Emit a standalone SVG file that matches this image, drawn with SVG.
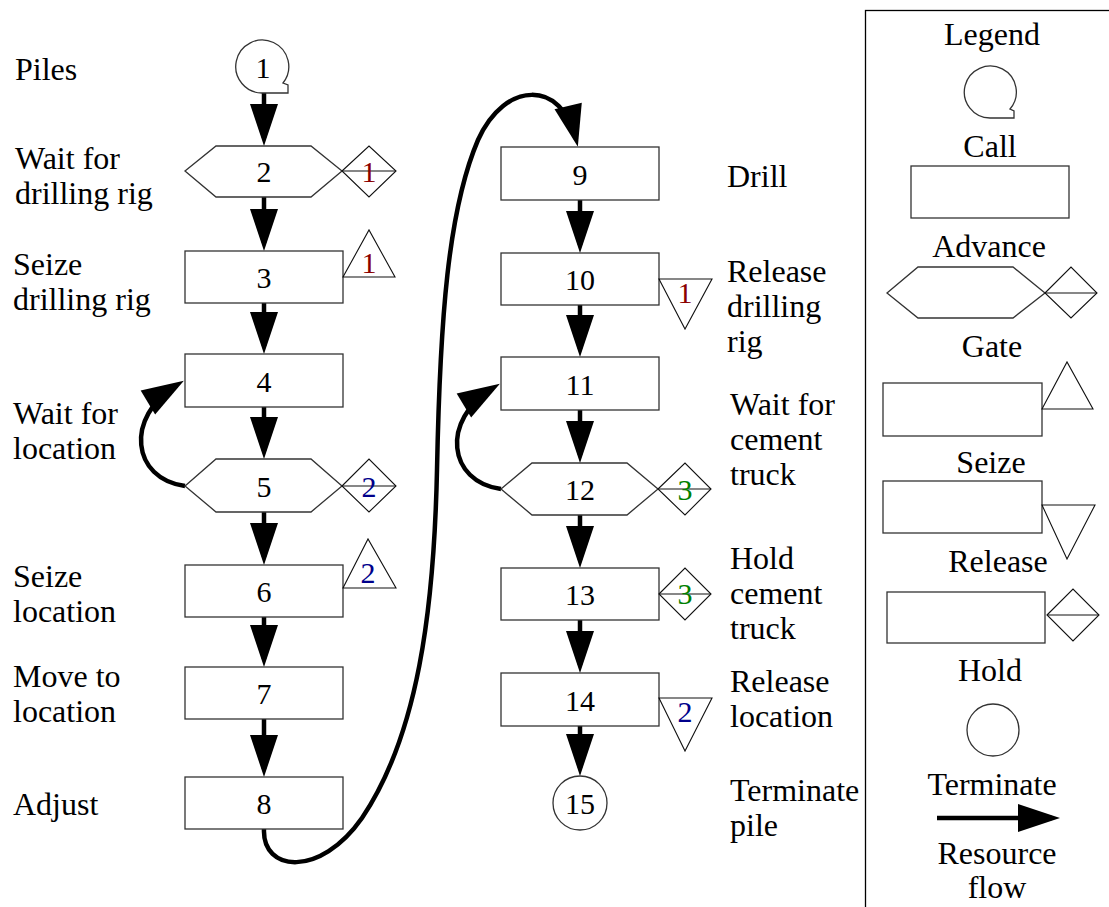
<svg xmlns="http://www.w3.org/2000/svg" width="1109" height="907" viewBox="0 0 1109 907">
  <style>
    .shape { fill: #fff; stroke: #333; stroke-width: 1.3; }
    .res { fill: none; stroke: #111; stroke-width: 1.1; }
    .num { font-family: "Liberation Serif", "Times New Roman", serif; font-size: 30px; fill: #000; text-anchor: middle; }
    .lbl { font-family: "Liberation Serif", "Times New Roman", serif; font-size: 32px; fill: #000; }
    .leg { font-family: "Liberation Serif", "Times New Roman", serif; font-size: 32px; fill: #000; text-anchor: middle; }
    .r1 { fill: #8b0000; }
    .r2 { fill: #00008b; }
    .r3 { fill: #008000; }
    .flow { fill: none; stroke: #000; stroke-width: 4.5; }
  </style>
  <defs>
    <marker id="head" markerUnits="userSpaceOnUse" markerWidth="42" markerHeight="28" refX="34" refY="14" orient="auto" overflow="visible">
      <path d="M0,0 L42,14 L0,28 Z" fill="#000"/>
    </marker>
  </defs>

  <rect width="1109" height="907" fill="#fff"/>

  <!-- connectors -->
  <g id="connectors">
    <path class="flow" marker-end="url(#head)" d="M264,93 V138"/>
    <path class="flow" marker-end="url(#head)" d="M264,197 V243"/>
    <path class="flow" marker-end="url(#head)" d="M264,303 V346"/>
    <path class="flow" marker-end="url(#head)" d="M264,407 V451"/>
    <path class="flow" marker-end="url(#head)" d="M264,512 V557"/>
    <path class="flow" marker-end="url(#head)" d="M264,617 V659"/>
    <path class="flow" marker-end="url(#head)" d="M264,719 V769"/>
    <path class="flow" marker-end="url(#head)" d="M580,200 V245"/>
    <path class="flow" marker-end="url(#head)" d="M580,305 V349"/>
    <path class="flow" marker-end="url(#head)" d="M580,410 V455"/>
    <path class="flow" marker-end="url(#head)" d="M580,515 V560"/>
    <path class="flow" marker-end="url(#head)" d="M580,620 V665"/>
    <path class="flow" marker-end="url(#head)" d="M580,726 V768"/>
    <!-- loops back to the waiting steps -->
    <path class="flow" marker-end="url(#head)" d="M185,486 C132,479 124,417 177,385"/>
    <path class="flow" marker-end="url(#head)" d="M501,489 C448,482 440,420 493,388"/>
    <!-- from Adjust over to Drill -->
    <path class="flow" marker-end="url(#head)" d="M264,829 C262,872 320,878 362,818 C418,735 434,610 437,470 C440,320 448,210 478,140 C505,80 562,80 576,139"/>
  </g>

  <!-- left column -->
  <g id="n1">
    <path class="shape" d="M263,93 A26.5,26.5 0 1 1 283,83 L288,85 L288,93 Z"/>
    <text class="num" x="263" y="78">1</text>
  </g>
  <g id="n2">
    <polygon class="shape" points="185,171 216,146 311,146 342,171 311,197 216,197"/>
    <text class="num" x="264" y="182">2</text>
    <polygon class="res" points="342,171 369,146 396,171 369,197"/>
    <line class="res" x1="342" y1="171" x2="396" y2="171"/>
    <text class="num r1" x="369" y="182">1</text>
  </g>
  <g id="n3">
    <rect class="shape" x="185" y="251" width="158" height="52"/>
    <text class="num" x="264" y="288">3</text>
    <polygon class="res" points="343,277 395,277 369,230"/>
    <text class="num r1" x="369" y="273">1</text>
  </g>
  <g id="n4">
    <rect class="shape" x="185" y="354" width="158" height="53"/>
    <text class="num" x="264" y="392">4</text>
  </g>
  <g id="n5">
    <polygon class="shape" points="185,486 216,459 311,459 342,486 311,512 216,512"/>
    <text class="num" x="264" y="497">5</text>
    <polygon class="res" points="342,486 369,459 396,486 369,512"/>
    <line class="res" x1="342" y1="486" x2="396" y2="486"/>
    <text class="num r2" x="369" y="497">2</text>
  </g>
  <g id="n6">
    <rect class="shape" x="185" y="565" width="158" height="52"/>
    <text class="num" x="264" y="602">6</text>
    <polygon class="res" points="343,588 396,588 368,539"/>
    <text class="num r2" x="368" y="583">2</text>
  </g>
  <g id="n7">
    <rect class="shape" x="185" y="667" width="158" height="52"/>
    <text class="num" x="264" y="704">7</text>
  </g>
  <g id="n8">
    <rect class="shape" x="185" y="777" width="158" height="52"/>
    <text class="num" x="264" y="814">8</text>
  </g>

  <!-- right column -->
  <g id="n9">
    <rect class="shape" x="501" y="147" width="158" height="53"/>
    <text class="num" x="580" y="185">9</text>
  </g>
  <g id="n10">
    <rect class="shape" x="501" y="253" width="158" height="52"/>
    <text class="num" x="580" y="290">10</text>
    <polygon class="res" points="659,279 712,279 685,329"/>
    <text class="num r1" x="685" y="303">1</text>
  </g>
  <g id="n11">
    <rect class="shape" x="501" y="357" width="158" height="53"/>
    <text class="num" x="580" y="395">11</text>
  </g>
  <g id="n12">
    <polygon class="shape" points="501,489 532,463 627,463 658,489 627,515 532,515"/>
    <text class="num" x="580" y="500">12</text>
    <polygon class="res" points="658,489 685,463 711,489 685,515"/>
    <line class="res" x1="658" y1="489" x2="711" y2="489"/>
    <text class="num r3" x="685" y="500">3</text>
  </g>
  <g id="n13">
    <rect class="shape" x="501" y="568" width="158" height="52"/>
    <text class="num" x="580" y="605">13</text>
    <polygon class="res" points="659,594 685,568 711,594 685,620"/>
    <line class="res" x1="659" y1="594" x2="711" y2="594"/>
    <text class="num r3" x="685" y="604">3</text>
  </g>
  <g id="n14">
    <rect class="shape" x="501" y="673" width="158" height="53"/>
    <text class="num" x="580" y="711">14</text>
    <polygon class="res" points="659,698 712,698 685,751"/>
    <text class="num r2" x="685" y="722">2</text>
  </g>
  <g id="n15">
    <circle class="shape" cx="580" cy="803" r="27"/>
    <text class="num" x="580" y="814">15</text>
  </g>

  <!-- step labels -->
  <g id="labels-left">
    <text class="lbl" x="15" y="80">Piles</text>
    <text class="lbl" x="15" y="169">Wait for</text>
    <text class="lbl" x="15" y="204">drilling rig</text>
    <text class="lbl" x="13" y="275">Seize</text>
    <text class="lbl" x="13" y="310">drilling rig</text>
    <text class="lbl" x="13" y="424">Wait for</text>
    <text class="lbl" x="13" y="459">location</text>
    <text class="lbl" x="13" y="587">Seize</text>
    <text class="lbl" x="13" y="622">location</text>
    <text class="lbl" x="13" y="687">Move to</text>
    <text class="lbl" x="13" y="722">location</text>
    <text class="lbl" x="13" y="815">Adjust</text>
  </g>
  <g id="labels-right">
    <text class="lbl" x="727" y="187">Drill</text>
    <text class="lbl" x="727" y="282">Release</text>
    <text class="lbl" x="727" y="317">drilling</text>
    <text class="lbl" x="727" y="352">rig</text>
    <text class="lbl" x="730" y="415">Wait for</text>
    <text class="lbl" x="730" y="450">cement</text>
    <text class="lbl" x="730" y="485">truck</text>
    <text class="lbl" x="730" y="569">Hold</text>
    <text class="lbl" x="730" y="604">cement</text>
    <text class="lbl" x="730" y="639">truck</text>
    <text class="lbl" x="730" y="692">Release</text>
    <text class="lbl" x="730" y="727">location</text>
    <text class="lbl" x="730" y="801">Terminate</text>
    <text class="lbl" x="730" y="836">pile</text>
  </g>

  <!-- legend -->
  <g id="legend">
    <rect x="865.5" y="10.5" width="300" height="1000" fill="none" stroke="#000" stroke-width="1.3"/>
    <text class="leg" x="992" y="45">Legend</text>
    <path class="shape" d="M990,118 A26,26 0 1 1 1010,109 L1014,111 L1014,118 Z"/>
    <text class="leg" x="990" y="157">Call</text>
    <rect class="shape" x="911" y="166" width="158" height="52"/>
    <text class="leg" x="989" y="257">Advance</text>
    <polygon class="shape" points="887,293 918,267 1013,267 1045,293 1013,318 918,318"/>
    <polygon class="res" points="1045,293 1071,267 1097,293 1071,318"/>
    <line class="res" x1="1045" y1="293" x2="1097" y2="293"/>
    <text class="leg" x="992" y="357">Gate</text>
    <rect class="shape" x="883" y="383" width="159" height="53"/>
    <polygon class="res" points="1042,409 1093,409 1067,362"/>
    <text class="leg" x="991" y="473">Seize</text>
    <rect class="shape" x="883" y="481" width="159" height="52"/>
    <polygon class="res" points="1042,505 1095,505 1067,559"/>
    <text class="leg" x="998" y="572">Release</text>
    <rect class="shape" x="887" y="592" width="158" height="51"/>
    <polygon class="res" points="1047,615 1073,589 1099,615 1073,641"/>
    <line class="res" x1="1047" y1="615" x2="1099" y2="615"/>
    <text class="leg" x="990" y="681">Hold</text>
    <circle class="shape" cx="993" cy="730" r="26"/>
    <text class="leg" x="992" y="795">Terminate</text>
    <path class="flow" marker-end="url(#head)" d="M937,818 H1052"/>
    <text class="leg" x="997" y="864">Resource</text>
    <text class="leg" x="997" y="898">flow</text>
  </g>
</svg>
